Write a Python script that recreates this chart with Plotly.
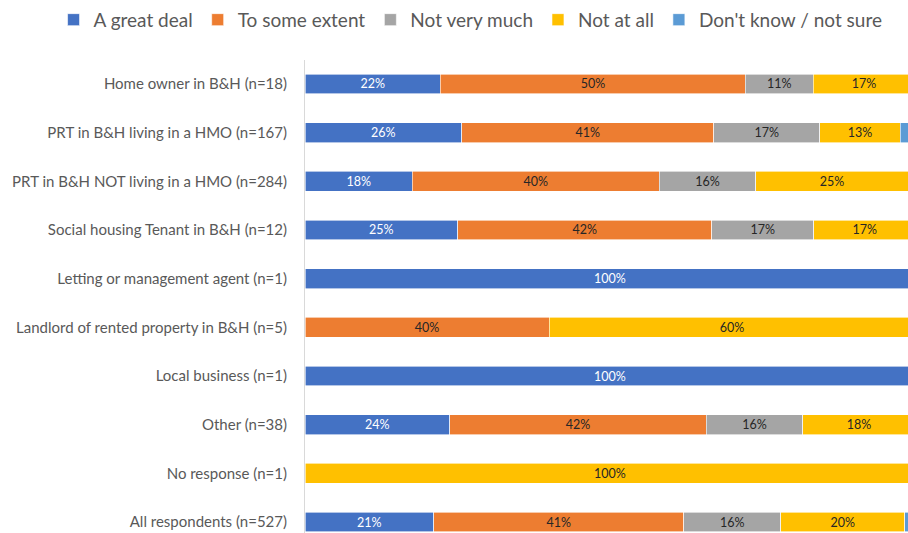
import plotly.graph_objects as go

categories = [
    "Home owner in B&H (n=18)",
    "PRT in B&H living in a HMO (n=167)",
    "PRT in B&H NOT living in a HMO (n=284)",
    "Social housing Tenant in B&H (n=12)",
    "Letting or management agent (n=1)",
    "Landlord of rented property in B&H (n=5)",
    "Local business (n=1)",
    "Other (n=38)",
    "No response (n=1)",
    "All respondents (n=527)",
]

series_names = ["A great deal", "To some extent", "Not very much", "Not at all", "Don't know / not sure"]

great_deal = [22.2, 25.7, 17.6, 25.0, 100, 0, 100, 23.7, 0, 21.1]
some_extent = [50.0, 41.3, 40.5, 41.7, 0, 40, 0, 42.1, 0, 41.0]
not_very_much = [11.1, 17.4, 15.8, 16.7, 0, 0, 0, 15.8, 0, 15.9]
not_at_all = [16.7, 13.2, 25.0, 16.7, 0, 60, 0, 18.4, 100, 20.3]
dont_know = [0, 2.4, 1.1, 0, 0, 0, 0, 0, 0, 1.7]

series_values = [great_deal, some_extent, not_very_much, not_at_all, dont_know]
colors = ["#4472C4", "#ED7D31", "#A5A5A5", "#FFC000", "#5B9BD5"]
label_colors = ["white", "#262626", "#262626", "#262626", "#262626"]

fig = go.Figure()
for name, vals, col, lc in zip(series_names, series_values, colors, label_colors):
    texts = [f"{round(v)}%" if v >= 5 else "" for v in vals]
    fig.add_trace(go.Bar(
        y=categories, x=vals, name=name, orientation="h",
        marker=dict(color=col, line=dict(color="white", width=0.6)),
        text=texts, textposition="inside", insidetextanchor="middle",
        textangle=0, constraintext="none",
        insidetextfont=dict(family="Lato", size=12.5, color=lc),
        hoverinfo="skip", width=0.41,
    ))

fig.update_layout(
    barmode="stack",
    width=908, height=533,
    margin=dict(l=305, r=0, t=60, b=0, autoexpand=False),
    paper_bgcolor="white", plot_bgcolor="white",
    font=dict(family="Lato", color="#595959"),
    legend=dict(orientation="h", x=-0.417, xanchor="left", xref="paper",
                y=1.085, yref="paper", yanchor="middle",
                font=dict(size=19, color="#595959"), itemwidth=30,
                traceorder="normal"),
    showlegend=True,
)
fig.update_xaxes(range=[0, 98.85], showticklabels=False, showgrid=False, zeroline=False)
fig.update_yaxes(categoryorder="array", categoryarray=categories,
                 range=[9.226, -0.493], showline=True, linecolor="#D9D9D9", linewidth=1,
                 ticks="", ticklabelstandoff=14,
                 tickfont=dict(family="Lato", size=15, color="#595959"))

fig.write_html(
    "out.html",
    config={"displayModeBar": False},
    post_script="document.body.style.margin='0';document.body.style.overflow='hidden';",
)
